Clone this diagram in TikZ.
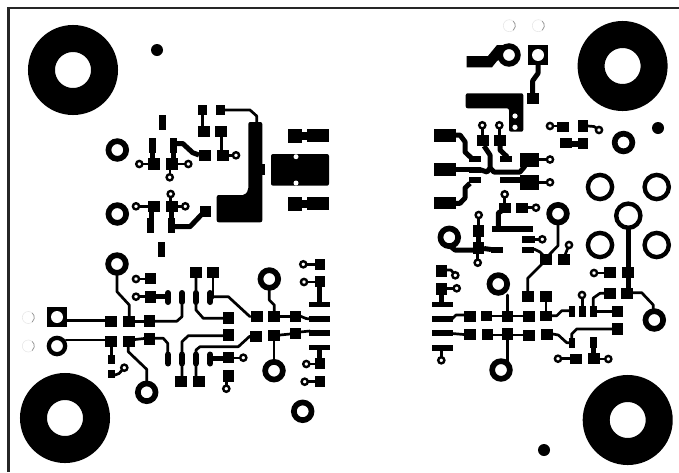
\documentclass[tikz,border=0pt]{standalone}
\usepackage{tikz}

\begin{document}
\begin{tikzpicture}
[x=1pt,y=-1pt,
trace/.style={line width=2.7pt,line join=round,line cap=round},
wide/.style={line width=5pt,line join=round},
pill/.style={line width=6pt,line cap=round},
via/.style={draw,circle,fill=white,line width=2.4pt,inner sep=0pt,minimum size=6.2pt},
ring/.style={draw,circle,fill=white,line width=5.7pt,inner sep=0pt,minimum size=17.7pt},
testring/.style={draw,circle,fill=white,line width=4.4pt,inner sep=0pt,minimum size=24.2pt},
mount/.style={draw,circle,fill=white,line width=27pt,inner sep=0pt,minimum size=63pt},
ghost/.style={gray!18,line width=0.6pt},
]
\useasboundingbox (0,0) rectangle (679,472);

%Board outline
\draw[line width=2.4pt,black!85] (679,8) -- (8.5,8) -- (8.5,472);

%Traces on the left half
\draw[trace] (202.7,115) -- (202.7,126);
\draw[trace] (221.7,136) -- (221.7,152);
\draw[trace] (225,110) -- (250,110) -- (256.7,116) -- (256.7,123);
\draw[wide] (152,150) -- (152,160);
\draw[wide] (173.5,150) -- (173.5,160);
\draw[trace] (139,164) -- (150,164);
\draw[trace] (176,164) -- (188,164);
\draw[trace] (170,168) -- (170,177);
\draw[wide] (176,143.5) -- (182.7,143.5) -- (192.7,152.7) -- (199,155);
\draw[trace] (229,155.3) -- (236,155.3);
\draw[trace] (136,206.3) -- (150,206.3);
\draw[wide] (151,210) -- (151,220);
\draw[trace] (170.7,194) -- (170.7,203);
\draw[trace] (176,206.3) -- (185.3,206.3);
\draw[wide] (171.3,210) -- (171.3,220);
\draw[wide] (174,226.7) -- (190,226.7) -- (203,213);
\draw[line width=8pt] (300,136) -- (308,136);
\draw[line width=8pt] (300,204) -- (308,204);
\draw[trace] (117,275) -- (117,291.7) -- (129.3,305) -- (129.3,317);
\draw[trace] (136,279) -- (146,279);
\draw[trace] (136,296.7) -- (146,296.7);
\draw[wide] (155,296.7) -- (167,296.7);
\draw[trace] (196,277) -- (196,310) -- (203.3,318.3) -- (223,318.3);
\draw[trace] (213,296.7) -- (228.3,296.7) -- (250,316.7);
\draw[trace] (213,298) -- (213,277);
\draw[trace] (269.3,289) -- (269.3,300) -- (274.3,305) -- (274.3,311);
\draw[trace] (280,316.7) -- (290,316.7);
\draw[trace] (300,316) -- (306,318.5) -- (310,319);
\draw[wide] (319.5,286) -- (319.5,302);
\draw[trace] (304,264.3) -- (316,264.3);
\draw[trace] (304,282) -- (316,282);
\draw[trace] (66,320.7) -- (105,320.7);
\draw[trace] (135,321.3) -- (144,321.3);
\draw[trace] (155,321.3) -- (176.7,321.3) -- (182,316.7) -- (182,305);
\draw[trace] (66,340) -- (105,340);
\draw[trace] (135,339.5) -- (144,338.5);
\draw[trace] (155,338.3) -- (163.3,338.3) -- (167.7,343.3) -- (167.7,352);
\draw[trace] (222.7,335.7) -- (188.3,335.7) -- (182,341.7) -- (182,376);
\draw[trace] (250,336) -- (238.3,346.7) -- (200,346.7) -- (196,350) -- (196,376);
\draw[wide] (213,358) -- (226,358);
\draw[trace] (234,358) -- (243,358);
\draw[trace] (226.3,381) -- (226.3,388);
\draw[trace] (274,341) -- (274,362);
\draw[trace] (280,335) -- (290,334);
\draw[trace] (300,332) -- (310,331);
\draw[wide] (319.5,350) -- (319.5,359);
\draw[trace] (306,364) -- (316,364);
\draw[trace] (304.7,381.7) -- (316,381.7);
\draw[trace] (146.7,382) -- (146.7,369.3) -- (128.3,351.7) -- (128.3,347);
\draw[trace] (111.7,347) -- (111.7,356);
\draw[trace] (115,375) -- (119,373.5) -- (124.3,367.7);

%Traces on the right half
\draw[wide] (538,64) -- (538,73.3) -- (532.7,80.7) -- (532.7,94);
\draw[trace] (550,126) -- (558,126);
\draw[trace] (588,126) -- (594,126.5) -- (599,130);
\draw[line width=6pt] (571,143.5) -- (579,143.5);
\draw[wide] (456,135) -- (460,135) -- (465,141.7) -- (465,152) -- (471.7,158.3);
\draw[wide] (456,169.7) -- (480,169.7);
\draw[wide] (480,169.7) -- (487,172) -- (490,168) -- (490,155) -- (484,146);
\draw[wide] (490,168) -- (494,172) -- (520,172) -- (525,166);
\draw[trace] (482.3,125.3) -- (482.3,136);
\draw[trace] (499.3,125.3) -- (499.3,136);
\draw[wide] (500,145) -- (500,150) -- (507.3,157);
\draw[trace] (538,159.5) -- (550,159.5);
\draw[trace] (538,182.3) -- (550,182.3);
\draw[wide] (470,183.3) -- (465,188) -- (465,198) -- (460,203.3) -- (456,203.3);
\draw[trace] (504.7,194.3) -- (504.7,203);
\draw[wide] (503,210) -- (498.3,213) -- (498.3,227);
\draw[trace] (527,207.7) -- (536,207.7);
\draw[trace] (558,225) -- (558,245.7) -- (546,258);
\draw[trace] (546,260) -- (527.7,278.3) -- (527.7,292);
\draw[trace] (534,239.3) -- (542.3,239.3);
\draw[trace] (534,249) -- (540,252) -- (545,257);
\draw[trace] (569,245) -- (565,255);
\draw[wide] (449,245) -- (455,250) -- (478,250);
\draw[wide] (484,248.5) -- (491,249.5);
\draw[trace] (478.7,215) -- (478.7,226);
\draw[wide] (478,235) -- (478,244);
\draw[trace] (477.7,254) -- (477.7,262.7);
\draw[trace] (446,270) -- (451,270) -- (455.3,275.3);
\draw[trace] (446,288.5) -- (456.7,288.5);
\draw[wide] (441.7,295) -- (441.7,302);
\draw[trace] (441.3,350) -- (441.3,360);
\draw[trace] (452,319) -- (456,315) -- (464,315);
\draw[trace] (452,333.5) -- (464,334.5);
\draw[trace] (507.3,295) -- (507.3,311);
\draw[trace] (492,316) -- (523,316);
\draw[trace] (507.3,340) -- (507.3,362);
\draw[trace] (493,335) -- (523,335);
\draw[trace] (546,302) -- (546,311);
\draw[trace] (552,315.7) -- (556.7,315.7) -- (561.7,310.7) -- (569,310.7);
\draw[trace] (582.7,295) -- (582.7,306);
\draw[trace] (593.3,308) -- (593.3,298) -- (600,293.3) -- (604,293.3);
\draw[trace] (596,311.7) -- (612,311.7);
\draw[trace] (612,329) -- (576.7,329) -- (571.7,334) -- (571.7,338);
\draw[trace] (552.7,334) -- (558.3,335) -- (566.7,342.7) -- (569,342.7);
\draw[wide] (593.3,348) -- (593.3,354);
\draw[trace] (600,359) -- (608.3,359);
\draw[trace] (558,358.7) -- (570,358.7);
\draw[trace] (594,273) -- (604,273);
\draw[wide] (628.3,225) -- (628.3,289);
\draw[trace] (633,292.7) -- (641.7,292.7) -- (653.3,305) -- (653.3,312);

%Pads as x1/y1/x2/y2
\foreach \xa/\ya/\xb/\yb in {159/115/166/130, 198/105/207.3/115, 216/105/225/115,
198/126/210/136.7, 215/126/227/136.7, 149/138/155.7/153, 147.7/158/160/170,
170/138/176.7/153, 166/158/178/170, 198.7/150/211/160.7, 217.3/150/229.3/160.7,
147.7/201/160/211.7, 146.7/218.3/154/233.3, 166/201/178/211.7, 167.7/218.3/175/233.3,
200/206/211/216.7, 157.7/242.3/165/256.7, 262/164/265/175,
288/129/301.7/142.7, 306.7/129/329/142.3, 288/196.7/301.7/210.7, 306.7/196.7/329/210,
145/273.3/155.7/284.3, 145/290.7/155.7/302.7, 190/267.3/202/277.7, 207.3/267.3/219/277.7,
222.7/312.3/234/324, 250.7/311.3/263.3/322, 268.3/311.3/280/322, 290/310.7/300.7/321.7,
309.3/301.7/330/307.3, 309.3/316/330/321.7, 309.3/330/330/336, 309.3/344.7/330/350,
315/259/325/270, 315/276/325/287.3, 105/316/117.3/327.3, 123.3/316/135/327.3,
144/315.3/155.3/327.3, 105/336/117.3/347.3, 123.3/336/135/347.3, 144/333.3/155.3/345,
175/376/186.7/386.7, 192.7/376/204.7/386.7, 222.7/329/234/340.7, 250/331.3/262/342,
222.7/352.3/234/363.3, 223.3/370/234/381.7, 268.3/330/280/340.7, 290/328.3/300.7/339.3,
315/358.3/325/369.3, 315/376/325/387.3, 108.3/355.3/115/364.3, 108.3/370/115/378.3,
527.3/93.3/539/104, 557.3/121.7/569/131.7, 578/120/588.3/131.7, 560/138.3/571.7/148.3,
578.3/138.3/588.3/149.3, 434/129.3/456/141.7, 469.3/156/480.7/161.7, 434/163.3/456/175.7,
469.3/166.7/480.7/173.3, 477.3/135/488.7/146, 494/135/506/146, 500/156/511.7/161.7,
520/152.7/539/166.7, 469.3/176.7/480.7/183.3, 434/196.7/456/209.3, 500/176.7/520/183.3,
520/175/539/190, 499/202.7/511/213.3, 491.7/225.7/533.3/231.7, 516/202.7/527.7/213.3,
540/254/552/265, 522/236/535/242.7, 522/246.7/534/253.3, 558.3/254/570/265,
472.7/242.3/484/254, 491/246.7/502.7/253.3, 472.7/225/484/236.7, 436/265/446.7/276.7,
436/283.3/446.7/295, 432/301.7/452.7/307.3, 432/316/452.7/321.7, 432/330.3/452.7/336.3,
432/344.7/452.7/350.7, 464/311.3/475.7/321.7, 464/329.3/475.7/340, 481.3/310.7/492/321,
482.3/329.3/493.3/340, 501.7/310.7/512.7/321.7, 523.3/311.3/535/321.7, 501.7/328.3/512.7/340,
523.3/330/535/341, 522/291/533.7/302.3, 540/291/552/302.3, 540/310.7/552/321,
540.7/329.3/552.7/340, 569/306/575/316.7, 579/306/586/316.7, 590/306/596.7/316.7,
604/288.3/615.7/299, 612.3/306/622.7/317.3, 611.7/323.3/622.7/335, 569/338.3/575/347.7,
590/336.7/596.7/348.3, 588/353.3/600/364, 570/354/582/364.3, 604/267.3/615.7/277.7,
622.3/267.3/634/277.7, 621.3/288.3/633.3/299}
  \fill (\xa,\ya) rectangle (\xb,\yb);

%Rounded edge connector pins
\foreach \x/\ya/\yb in {168/293/302, 182/293/302, 195.8/293/302, 210.3/293/302,
168/354.5/363.5, 182/354.5/363.5, 195.8/354.5/363.5, 210.3/354.5/363.5}
  \draw[pill] (\x,\ya) -- (\x,\yb);

%Copper pours
\fill[rounded corners=2pt] (248.3,122) -- (262.3,122) -- (262.3,222.3) -- (216.7,222.3)
  -- (216.7,195) -- (245,195) -- (248.3,190) -- cycle;
\fill[rounded corners=2pt] (271,154) rectangle (329,185.7);
\fill[rounded corners=2pt] (465.7,93.3) -- (523.3,93.3) -- (523.3,131.7) -- (509,131.7)
  -- (509,108.3) -- (465.7,108.3) -- cycle;
\fill (466.7,56) -- (488,56) -- (497,45) -- (508,45) -- (508,55) -- (497,61) -- (492,67.3)
  -- (466.7,67.3) -- cycle;
\fill (47.3,307.3) rectangle (66.7,326.7);
\fill (528,45) rectangle (548,65);

%Holes in the pours
\foreach \x/\y/\r in {296/156.7/2.5, 296/183/2.5, 515/116/2.6, 515/127.3/2.6,
57/317/6, 538/55/6}
  \fill[white] (\x,\y) circle (\r);

%Solid dots
\foreach \x/\y in {157/50, 658/128, 544/450}
  \fill (\x,\y) circle (6);

%Small vias
\foreach \x/\y [count=\i] in {139.3/164, 188.3/164, 169.7/177.3, 236/155.3, 136/206.3,
170.7/194, 185.3/206.3, 136/279, 136/296.7, 243.3/357.7, 226.3/388.7, 303.3/264.3,
304/282, 306.3/364, 304.7/381.7, 124.3/367.7, 550/126, 599/130, 482.3/125.3, 499.3/125.3,
550/159.5, 550/182.3, 504.7/194.3, 536/207.7, 542.3/239.3, 569/245, 478.7/215,
477.7/262.7, 455.3/275.3, 456.7/288.3, 441.3/360.3, 582/295, 608.3/359, 558/358.7, 594/273}
  \node (via\i) at (\x,\y)[via] {};

%Probe rings
\foreach \x/\y [count=\i] in {117.3/150, 117.3/214, 117/264, 269.3/279, 274/370.7,
146.7/392.3, 302.7/411.3, 509/55, 623.5/142.5, 558/213.7, 449.3/237.3, 498.3/284,
501/370, 654.3/320}
  \node (ring\i) at (\x,\y)[ring] {};
\node (ringin) at (57,346)[ring,line width=4.3pt,minimum size=16.3pt] {};

%Header rings
\foreach \x/\y [count=\i] in {600/187, 656.7/187, 628.3/215.7, 600/245, 656.7/245}
  \node (test\i) at (\x,\y)[testring] {};

%Mounting holes
\foreach \x/\y [count=\i] in {73/70, 622.6/66, 65/418, 627.7/420}
  \node (hole\i) at (\x,\y)[mount] {};

%Faint drill marks
\foreach \x/\y in {28.3/317.5, 28.3/346, 509.3/25.7, 538.3/25.7}{
  \draw[ghost] (\x,\y) circle (6);
  \draw[gray!85,line width=0.7pt] (\x,\y) ++(-50:6) arc (-50:50:6);
}

\end{tikzpicture}
\end{document}
